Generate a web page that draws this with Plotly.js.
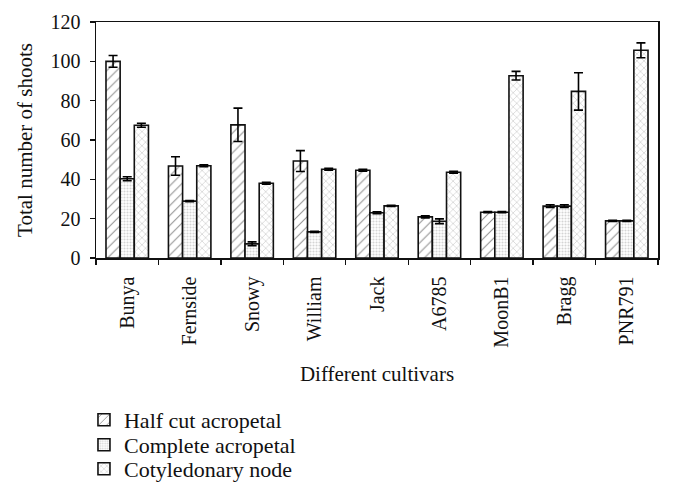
<!DOCTYPE html>
<html>
<head>
<meta charset="utf-8">
<script src="https://cdn.plot.ly/plotly-3.0.1.min.js"></script>
<style>html,body{margin:0;padding:0;background:#fff;}#chart{width:673px;height:503px;}</style>
</head>
<body>
<div id="chart"></div>
<script>
const cultivars = ["Bunya", "Fernside", "Snowy", "William", "Jack", "A6785", "MoonB1", "Bragg", "PNR791"];
const halfCut = [100, 46.8, 67.7, 49.3, 44.6, 20.9, 23.3, 26.4, 18.9];
const halfCutErr = [3, 4.7, 8.5, 5.3, 0.5, 0.5, 0.3, 0.7, 0.3];
const complete = [40.3, 28.9, 7.2, 13.3, 23.0, 18.7, 23.3, 26.4, 18.9];
const completeErr = [1, 0.3, 1, 0.3, 0.5, 1.2, 0.3, 0.7, 0.3];
const cotyledonary = [67.5, 46.9, 38, 45.1, 26.5, 43.6, 92.7, 84.7, 105.6];
const cotyledonaryErr = [1, 0.5, 0.5, 0.5, 0.3, 0.5, 2.2, 9.5, 3.8];
const seriesNames = ["Half cut acropetal", "Complete acropetal", "Cotyledonary node"];

const font = "Liberation Serif, Times New Roman, serif";

function bar(name, y, err, shape, fg, size, solidity, legendId) {
  return {
    type: "bar", name: name, x: cultivars, y: y, legend: legendId,
    error_y: {type: "data", array: err, visible: true, color: "#000", thickness: 1.6, width: 4.5},
    marker: {
      color: "#fff",
      line: {color: "#111", width: 1.6},
      pattern: {shape: shape, fgcolor: fg, bgcolor: "#fff", size: size, solidity: solidity, fillmode: "overlay"}
    }
  };
}

const data = [
  bar(seriesNames[0], halfCut, halfCutErr, "/", "#222", 7, 0.15, "legend"),
  bar(seriesNames[1], complete, completeErr, ".", "#aaa", 3, 0.4, "legend2"),
  bar(seriesNames[2], cotyledonary, cotyledonaryErr, "x", "#555", 5, 0.15, "legend3")
];

function leg(yb) {
  return {
    orientation: "v",
    x: -0.0214, xanchor: "left", y: yb, yanchor: "bottom",
    font: {family: font, size: 22, color: "#111"},
    itemwidth: 30, bgcolor: "rgba(0,0,0,0)", borderwidth: 0
  };
}

const layout = {
  width: 673, height: 503,
  paper_bgcolor: "#fff", plot_bgcolor: "#fff",
  margin: {l: 96, r: 15, t: 22, b: 245},
  font: {family: font, size: 20, color: "#111"},
  barmode: "group", bargap: 0.32, bargroupgap: 0,
  showlegend: true,
  legend: leg(-0.7754),
  legend2: leg(-0.8814),
  legend3: leg(-0.9831),
  xaxis: {
    type: "category",
    showline: true, linecolor: "#111", linewidth: 1.5, mirror: true,
    ticks: "outside", ticklen: 5, tickwidth: 1.3, tickcolor: "#111",
    tickson: "boundaries", tickangle: -90,
    tickfont: {family: font, size: 20, color: "#111"},
    ticklabelstandoff: 9,
    showgrid: false, zeroline: false,
    title: {text: "Different cultivars", font: {family: font, size: 21, color: "#111"}, standoff: 19}
  },
  yaxis: {
    range: [0, 120], dtick: 20,
    showline: true, linecolor: "#111", linewidth: 1.5, mirror: true,
    ticks: "outside", ticklen: 5, tickwidth: 1.3, tickcolor: "#111",
    tickfont: {family: font, size: 20, color: "#111"},
    ticklabelstandoff: 5,
    showgrid: false, zeroline: false,
    title: {text: "Total number of shoots", font: {family: font, size: 21, color: "#111"}, standoff: 12}
  }
};

Plotly.newPlot("chart", data, layout, {displayModeBar: false, staticPlot: true});
</script>
</body>
</html>
